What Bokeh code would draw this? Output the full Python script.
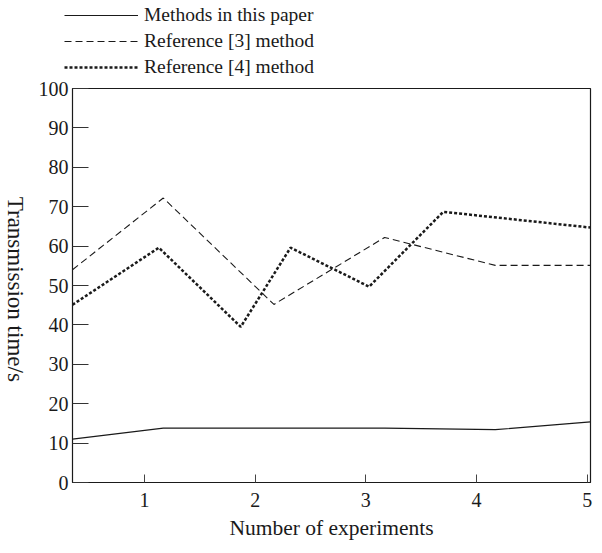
import math
from bokeh.plotting import figure
from bokeh.layouts import row, column
from bokeh.models import Range1d, FixedTicker, Legend, LegendItem
from bokeh.core.properties import value
from bokeh.embed import file_html
from bokeh.resources import INLINE

# ---- data ----
x_this = [0.35, 1.17, 2.17, 3.17, 4.17, 5.03]
y_this = [11.0, 13.8, 13.8, 13.8, 13.4, 15.4]

x_ref3 = [0.35, 1.17, 2.17, 3.17, 4.17, 5.03]
y_ref3 = [54.0, 72.2, 45.2, 62.2, 55.1, 55.1]

x_ref4 = [0.35, 1.13, 1.87, 2.32, 3.03, 3.70, 5.03]
y_ref4 = [45.1, 59.6, 39.5, 59.6, 49.7, 68.7, 64.7]

x_ticks = [1, 2, 3, 4, 5]
y_ticks = [0, 10, 20, 30, 40, 50, 60, 70, 80, 90, 100]

series_names = ["Methods in this paper", "Reference [3] method", "Reference [4] method"]
y_title = "Transmission time/s"
x_title = "Number of experiments"

FONT = "Liberation Serif"
INK = "#1a1a1a"
STYLES = [dict(line_width=1.2), dict(line_width=1.1, line_dash="7 4"),
          dict(line_width=2.5, line_dash="3 2")]
SERIES = [(x_this, y_this), (x_ref3, y_ref3), (x_ref4, y_ref4)]

# ---- main plot ----
p = figure(frame_width=518, frame_height=394,
           min_border_left=42, min_border_right=4,
           min_border_top=12, min_border_bottom=63,
           x_range=Range1d(0.35, 5.03), y_range=Range1d(0, 100),
           output_backend="svg", toolbar_location=None)

p.grid.visible = False
p.background_fill_color = "white"
p.border_fill_color = "white"
p.outline_line_color = INK
p.outline_line_width = 1.2

p.xaxis.ticker = FixedTicker(ticks=x_ticks)
p.xaxis.axis_label = x_title
p.xaxis.axis_label_text_font = FONT
p.xaxis.axis_label_text_font_size = "21.5px"
p.xaxis.axis_label_text_font_style = "normal"
p.xaxis.axis_label_text_color = INK
p.xaxis.axis_label_standoff = 6
p.xaxis.major_label_text_font = FONT
p.xaxis.major_label_text_font_size = "20px"
p.xaxis.major_label_text_color = INK
p.xaxis.major_label_standoff = 10
p.xaxis.major_tick_in = 8
p.xaxis.major_tick_out = 0
p.xaxis.minor_tick_line_color = None
p.xaxis.axis_line_color = INK
p.xaxis.major_tick_line_color = "#444444"

p.yaxis.ticker = FixedTicker(ticks=y_ticks)
p.yaxis.major_label_text_font = FONT
p.yaxis.major_label_text_font_size = "20px"
p.yaxis.major_label_text_color = INK
p.yaxis.major_label_standoff = 4
p.yaxis.major_tick_in = 16
p.yaxis.major_tick_out = 0
p.yaxis.minor_tick_line_color = None
p.yaxis.axis_line_color = INK
p.yaxis.major_tick_line_color = "#333333"

for (xs, ys), st in zip(SERIES, STYLES):
    p.line(xs, ys, line_color=INK, **st)

# ---- legend strip above the plot ----
# the strip's ranges keep its copies of the series out of view; only the
# legend samples and labels show
lg = figure(width=594, height=76, min_border=0,
            x_range=Range1d(0, 0.01), y_range=Range1d(0, 0.01),
            output_backend="svg", toolbar_location=None)
lg.axis.visible = False
lg.grid.visible = False
lg.outline_line_color = None
lg.background_fill_color = "white"
items = []
for name, (xs, ys), st in zip(series_names, SERIES, STYLES):
    r = lg.line(xs, ys, line_color=INK, **st)
    items.append(LegendItem(label=name, renderers=[r]))
legend = Legend(items=items, location=(64, -2), orientation="vertical",
                glyph_width=74, glyph_height=20, label_height=20,
                label_standoff=6, spacing=4, padding=0, margin=0,
                border_line_color=None, background_fill_alpha=0,
                label_text_font=FONT, label_text_font_size="19.5px",
                label_text_color=INK)
lg.add_layout(legend)

# ---- narrow strip holding the y-axis title (reads top to bottom) ----
t = figure(width=30, height=469, min_border=0,
           x_range=Range1d(0, 30), y_range=Range1d(0, 469),
           output_backend="svg", toolbar_location=None)
t.axis.visible = False
t.grid.visible = False
t.outline_line_color = None
t.text(x=[15], y=[230], text=[y_title], angle=-math.pi / 2,
       text_font=value(FONT), text_font_size="23px", text_color=INK,
       text_align="center", text_baseline="middle")

layout = column(lg, row(t, p))
open("out.html", "w").write(file_html(layout, INLINE))
